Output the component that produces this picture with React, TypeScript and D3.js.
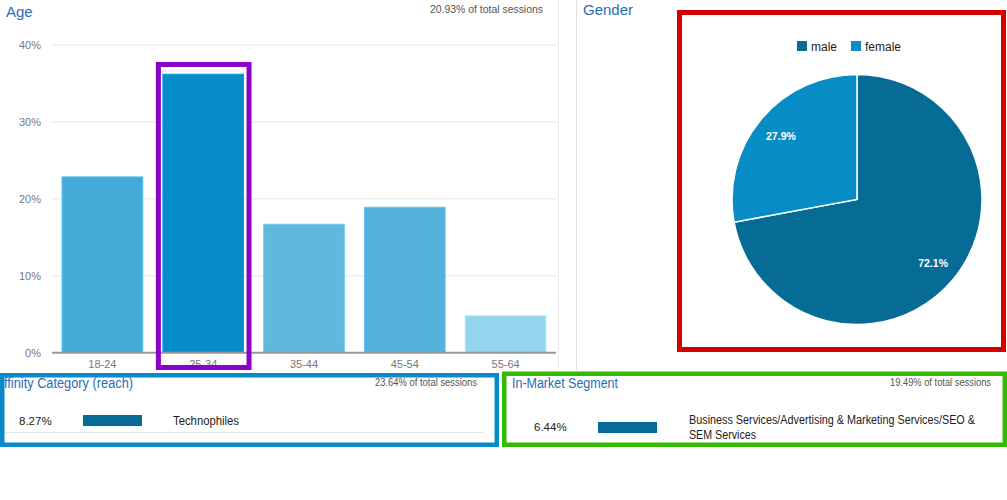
import * as d3 from 'd3'

const ageGroups = ['18-24', '25-34', '35-44', '45-54', '55-64']
const ageShare = [22.85, 36.2, 16.7, 18.9, 4.8]
const ageColors = ['#44aad8', '#068cc6', '#60b8dd', '#52b2dc', '#94d4ec']
const ageTicks = [0, 10, 20, 30, 40]

const genders = ['male', 'female']
const genderShare = [72.1, 27.9]
const genderColors = ['#066c96', '#078cc6']

const affinityNames = ['Technophiles']
const affinityShare = [8.27]
const segmentLines = ['Business Services/Advertising & Marketing Services/SEO &', 'SEM Services']
const segmentShare = [6.44]

const FONT = '"Liberation Sans", Arial, sans-serif'
const TITLE = '#2c6cb2'

// the bottom panels were rendered in a narrow face; squeeze to the reference widths
const squeeze = (w: number) => ({ textLength: w, lengthAdjust: 'spacingAndGlyphs' as const })

export default function App() {
  const x = d3.scaleBand<string>().domain(ageGroups).range([52, 556]).paddingInner(0.2).paddingOuter(0.1)
  const y = d3.scaleLinear().domain([0, 40]).range([352.7, 45])

  const pie = d3.pie<number>().sort(null).value(d => d)(genderShare)
  const arc = d3.arc<d3.PieArcDatum<number>>().innerRadius(0).outerRadius(125)
  const labelArc = d3.arc<d3.PieArcDatum<number>>().innerRadius(99).outerRadius(99)

  // each table's bars are relative to that table's top row
  const affW = d3.scaleLinear().domain([0, d3.max(affinityShare)!]).range([0, 59])
  const segW = d3.scaleLinear().domain([0, d3.max(segmentShare)!]).range([0, 59])

  const hi = ageGroups[ageShare.indexOf(d3.max(ageShare)!)]

  return (
    <svg width={1007} height={500} style={{ position: 'absolute', left: 0, top: 0, fontFamily: FONT }}>
      <rect width={1007} height={500} fill="#fff" />

      {/* Age panel */}
      <text x={6} y={17} fontSize={15} fill={TITLE}>Age</text>
      <text x={543} y={13} fontSize={11} fill="#555" textAnchor="end" {...squeeze(113)}>20.93% of total sessions</text>
      {ageTicks.map(t => (
        <g key={t}>
          {t > 0 && <line x1={52} x2={556} y1={y(t)} y2={y(t)} stroke="#e8e8e8" />}
          <text x={41} y={y(t) + 4} fontSize={11} fill="#777" textAnchor="end">{t}%</text>
        </g>
      ))}
      {ageGroups.map((g, i) => (
        <g key={g}>
          <rect x={x(g)} y={y(ageShare[i])} width={x.bandwidth()} height={y(0) - y(ageShare[i])}
            fill={ageColors[i]} stroke={d3.color(ageColors[i])!.brighter(0.3).toString()} strokeWidth={1} />
          <text x={x(g)! + x.bandwidth() / 2} y={368} fontSize={11} fill="#777" textAnchor="middle">{g}</text>
        </g>
      ))}
      <line x1={52} x2={556} y1={y(0)} y2={y(0)} stroke="#999" strokeWidth={2} />
      <rect x={x(hi)! - 4.5} y={64.5} width={x.bandwidth() + 10} height={303} fill="none" stroke="#8c00c8" strokeWidth={5} />

      <line x1={558.5} x2={558.5} y1={0} y2={370} stroke="#ececec" />
      <line x1={576.5} x2={576.5} y1={0} y2={370} stroke="#e0e0e0" />

      {/* Gender panel */}
      <text x={583} y={15} fontSize={15} fill={TITLE}>Gender</text>
      {genders.map((g, i) => {
        const lx = 797 + i * 54
        return (
          <g key={g}>
            <rect x={lx} y={41} width={10} height={10} fill={genderColors[i]} />
            <text x={lx + 14} y={50.5} fontSize={12} fill="#222">{g}</text>
          </g>
        )
      })}
      <g transform="translate(857,199.5)">
        {pie.map((p, i) => (
          <path key={i} d={arc(p)!} fill={genderColors[i]} stroke="#fff" strokeWidth={1.5} />
        ))}
        {pie.map((p, i) => {
          const [lx, ly] = labelArc.centroid(p)
          return (
            <text key={i} x={lx} y={ly + 4} fontSize={10.5} fontWeight="bold" fill="#fff" textAnchor="middle">
              {genderShare[i].toFixed(1)}%
            </text>
          )
        })}
      </g>
      <rect x={679.5} y={12.5} width={324} height={337} fill="none" stroke="#d40000" strokeWidth={5} />

      {/* Affinity panel */}
      <text x={4} y={388} fontSize={14} fill={TITLE} {...squeeze(129)}>ffinity Category (reach)</text>
      <text x={477} y={386} fontSize={10} fill="#555" textAnchor="end" {...squeeze(102)}>23.64% of total sessions</text>
      {affinityNames.map((n, i) => (
        <g key={n}>
          <text x={19} y={425} fontSize={11.5} fill="#222">{affinityShare[i].toFixed(2)}%</text>
          <rect x={83} y={415} width={affW(affinityShare[i])} height={11} fill="#066c96" />
          <text x={173} y={425} fontSize={12} fill="#222" {...squeeze(66)}>{n}</text>
        </g>
      ))}
      <line x1={5} x2={484} y1={432.5} y2={432.5} stroke="#e6e6e6" />
      <rect x={2.25} y={375.25} width={494.5} height={69.5} fill="none" stroke="#0a8ac8" strokeWidth={4.5} />

      {/* In-Market panel */}
      <text x={512} y={388} fontSize={14} fill={TITLE} {...squeeze(106)}>In-Market Segment</text>
      <text x={991} y={386} fontSize={10} fill="#555" textAnchor="end" {...squeeze(101)}>19.49% of total sessions</text>
      <text x={534} y={431} fontSize={11.5} fill="#222">{segmentShare[0].toFixed(2)}%</text>
      <rect x={598} y={422} width={segW(segmentShare[0])} height={11} fill="#066c96" />
      {segmentLines.map((s, i) => (
        <text key={i} x={689} y={424 + i * 15} fontSize={12} fill="#222" {...squeeze(i === 0 ? 286 : 67)}>{s}</text>
      ))}
      <rect x={504.25} y={373.75} width={500.5} height={71} fill="none" stroke="#33bb00" strokeWidth={4.5} />
    </svg>
  )
}
